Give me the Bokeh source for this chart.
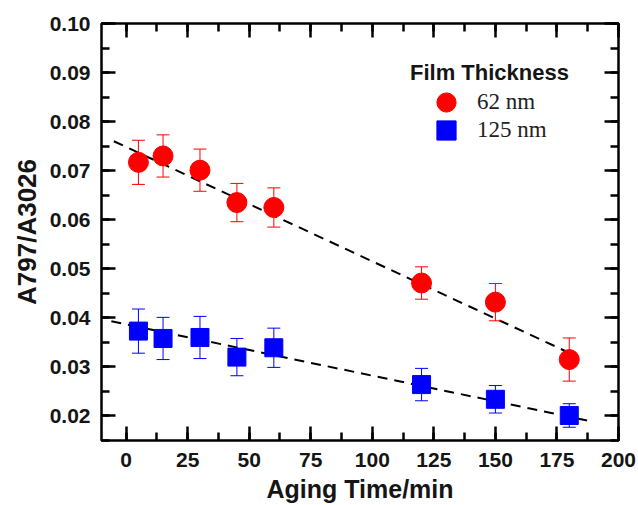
from bokeh.plotting import figure
from bokeh.models import (ColumnDataSource, Whisker, TeeHead, Legend, LegendItem, Label,
                          SingleIntervalTicker, CustomJSTickFormatter, Range1d, LinearAxis)
from bokeh.embed import file_html
from bokeh.resources import INLINE

# ---- data ----
time_min = [5, 15, 30, 45, 60, 120, 150, 180]
ratio_62 = [0.0717, 0.0730, 0.0701, 0.0635, 0.0625, 0.0471, 0.0432, 0.0315]
err_62 = [0.0045, 0.0043, 0.0043, 0.0039, 0.0040, 0.0033, 0.0038, 0.0044]
ratio_125 = [0.0373, 0.0358, 0.0360, 0.0320, 0.0339, 0.0264, 0.0234, 0.0201]
err_125 = [0.0045, 0.0043, 0.0043, 0.0038, 0.0040, 0.0033, 0.0028, 0.0024]
fit62_x = [-5, 182]
fit62_y = [0.0760, 0.0324]
fit125_x = [-6, 190]
fit125_y = [0.0393, 0.0188]
series_labels = ["62 nm", "125 nm"]
legend_title = "Film Thickness"
x_label = "Aging Time/min"
y_label = "A797/A3026"
x_tick_step = 25
y_tick_step = 0.01

X0, X1 = -10, 200
Y0, Y1 = 0.015, 0.10

RED = "#ff0000"
BLUE = "#0000ff"
SANS = "Liberation Sans"
SERIF = "Liberation Serif"
TXT = "#151515"

p = figure(width=638, height=505, output_backend="svg", toolbar_location=None,
           x_range=Range1d(X0, X1), y_range=Range1d(Y0, Y1),
           min_border_left=101, min_border_right=20, min_border_top=23, min_border_bottom=65)
p.xgrid.visible = False
p.ygrid.visible = False
p.outline_line_color = "black"
p.outline_line_width = 2.5
p.background_fill_color = "white"
p.border_fill_color = "white"

def style_axis(ax, ticker):
    ax.ticker = ticker
    ax.axis_line_color = None
    ax.major_tick_in = 14
    ax.major_tick_out = 0
    ax.minor_tick_in = 8
    ax.minor_tick_out = 0
    ax.major_tick_line_width = 2.5
    ax.minor_tick_line_width = 2.5
    ax.major_tick_line_color = "black"
    ax.minor_tick_line_color = "black"
    ax.major_label_text_font = SANS
    ax.major_label_text_font_style = "bold"
    ax.major_label_text_font_size = "21px"
    ax.major_label_text_color = TXT
    ax.axis_label_text_font = SANS
    ax.axis_label_text_font_style = "bold"
    ax.axis_label_text_color = TXT

style_axis(p.xaxis[0], SingleIntervalTicker(interval=x_tick_step, num_minor_ticks=2))
style_axis(p.yaxis[0], SingleIntervalTicker(interval=y_tick_step, num_minor_ticks=2))
p.xaxis[0].axis_label = x_label
p.yaxis[0].axis_label = y_label
p.xaxis[0].axis_label_text_font_size = "25px"
p.yaxis[0].axis_label_text_font_size = "26px"
p.xaxis[0].major_label_standoff = 12
p.xaxis[0].axis_label_standoff = 5
p.yaxis[0].major_label_standoff = 11
p.yaxis[0].axis_label_standoff = 5
p.yaxis[0].formatter = CustomJSTickFormatter(code="return tick.toFixed(2);")

# mirrored, label-less axes on top and right (ticks only)
blank = "return '';"
top_ax = LinearAxis(formatter=CustomJSTickFormatter(code=blank))
right_ax = LinearAxis(formatter=CustomJSTickFormatter(code=blank))
style_axis(top_ax, SingleIntervalTicker(interval=x_tick_step, num_minor_ticks=2))
style_axis(right_ax, SingleIntervalTicker(interval=y_tick_step, num_minor_ticks=2))
top_ax.major_label_standoff = 0
right_ax.major_label_standoff = 0
p.add_layout(top_ax, "above")
p.add_layout(right_ax, "right")

# ---- fit lines ----
p.line(fit62_x, fit62_y, line_color="black", line_width=2, line_dash="10 7")
p.line(fit125_x, fit125_y, line_color="black", line_width=2, line_dash="10 7")

# ---- error bars ----
src62 = ColumnDataSource(dict(x=time_min, y=ratio_62,
                              upper=[v + e for v, e in zip(ratio_62, err_62)],
                              lower=[v - e for v, e in zip(ratio_62, err_62)]))
src125 = ColumnDataSource(dict(x=time_min, y=ratio_125,
                               upper=[v + e for v, e in zip(ratio_125, err_125)],
                               lower=[v - e for v, e in zip(ratio_125, err_125)]))
for src, col in ((src62, RED), (src125, BLUE)):
    w = Whisker(source=src, base="x", upper="upper", lower="lower",
                line_color=col, line_width=1,
                upper_head=TeeHead(size=13, line_color=col, line_width=1),
                lower_head=TeeHead(size=13, line_color=col, line_width=1),
                level="glyph")
    p.add_layout(w)

r1 = p.scatter("x", "y", source=src62, marker="circle", size=20, fill_color=RED, line_color=RED)
r2 = p.scatter("x", "y", source=src125, marker="square", size=18, fill_color=BLUE, line_color=BLUE)

# ---- legend: one single-row legend per series so the rows can sit close together ----
for item_label, rend, loc in ((series_labels[0], r1, (321, 314)), (series_labels[1], r2, (321, 286))):
    lg = Legend(items=[LegendItem(label=item_label, renderers=[rend])],
                location=loc, glyph_width=48, glyph_height=48, spacing=0,
                label_standoff=7, padding=0, margin=0, border_line_alpha=0, background_fill_alpha=0,
                label_text_font=SERIF, label_text_font_size="23px", label_text_color="#222222")
    p.add_layout(lg)

p.add_layout(Label(x=147.6, y=0.0900, text=legend_title, text_align="center", text_baseline="middle",
                   text_font=SANS, text_font_style="bold", text_font_size="22px", text_color=TXT))

open("out.html", "w").write(file_html(p, INLINE))
